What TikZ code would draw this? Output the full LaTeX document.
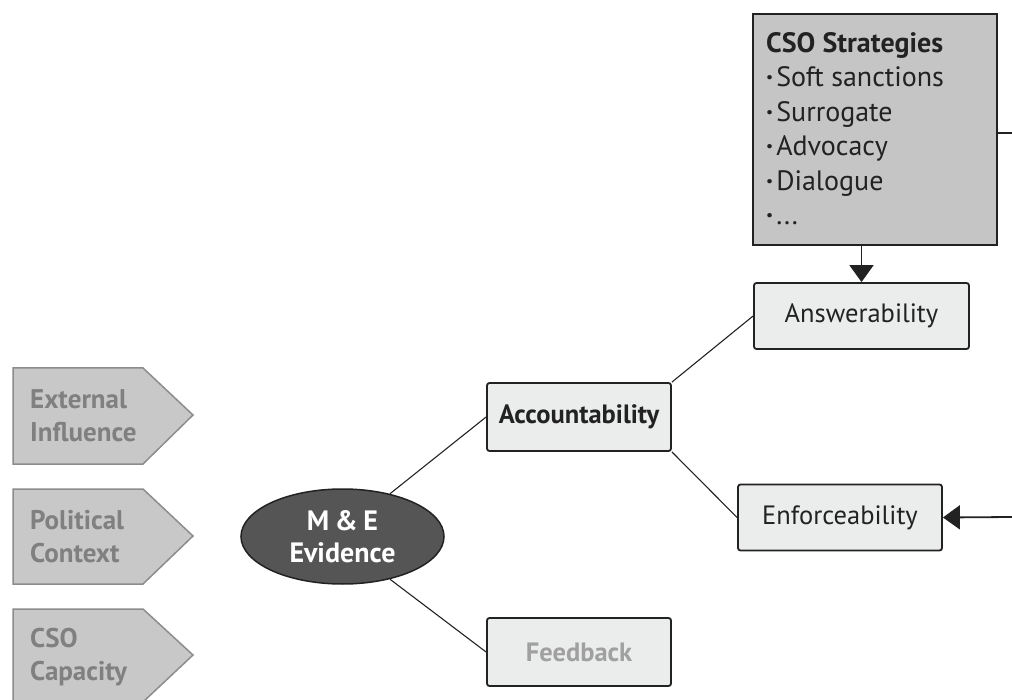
\documentclass[tikz,border=0pt]{standalone}
\usepackage{fontspec}
\setmainfont{PT Sans}
\usetikzlibrary{arrows.meta,shapes.geometric}
\definecolor{csofill}{HTML}{C5C5C5}
\definecolor{boxfill}{HTML}{EBECEC}
\definecolor{ellfill}{HTML}{555555}
\definecolor{pentfill}{HTML}{C8C8C8}
\definecolor{pentline}{HTML}{8C8C8C}
\definecolor{penttext}{HTML}{808080}
\definecolor{fbtext}{HTML}{A0A0A0}
\definecolor{linecol}{HTML}{222222}
\begin{document}
\begin{tikzpicture}[x=1pt,y=-1pt,
  lbox/.style={draw=linecol,line width=1.8pt,fill=boxfill,rounded corners=2.5pt,
    inner sep=0pt,font=\fontsize{26.5}{30}\selectfont,text=linecol},
  conn/.style={draw=linecol,line width=1.1pt},
  arr/.style={draw=linecol,line width=1.8pt,-{Triangle[width=24pt,length=17pt]}},
  pent/.style={draw=pentline,line width=1.5pt,fill=pentfill},
  penttxt/.style={inner sep=0pt,align=left,anchor=west,text=penttext,
    font=\bfseries\fontsize{27}{33}\selectfont},
  bul/.style={},
]
\useasboundingbox (0,0) rectangle (1012,700);

% CSO strategies box
\node[draw=linecol,line width=1.8pt,fill=csofill,minimum width=244pt,minimum height=231pt,inner sep=0pt] (cso) at (875,129.5) {};
\node[inner sep=0pt,align=left,anchor=north west,text=linecol,font=\fontsize{28}{34.5}\selectfont] (csotxt) at (766,32)
  {{\bfseries CSO Strategies}\\{\bfseries·}\hspace{3pt}Soft sanctions\\{\bfseries·}\hspace{3pt}Surrogate\\{\bfseries·}\hspace{3pt}Advocacy\\{\bfseries·}\hspace{3pt}Dialogue\\{\bfseries·}\hspace{3pt}...};

% boxes
\node[lbox,minimum width=215pt,minimum height=66pt] (ans) at (861.5,316) {Answerability};
\node[lbox,minimum width=184pt,minimum height=68pt] (acc) at (579,417) {\bfseries Accountability};
\node[lbox,minimum width=204pt,minimum height=66pt] (enf) at (840,517.5) {Enforceability};
\node[lbox,minimum width=184pt,minimum height=68pt,text=fbtext] (fb) at (579,652) {\bfseries Feedback};

% ellipse
\node[ellipse,draw=linecol,line width=1.5pt,fill=ellfill,minimum width=203pt,minimum height=95pt,inner sep=0pt,
  text=white,align=center,font=\bfseries\fontsize{28}{32}\selectfont] (me) at (342.5,536.5) {M\hspace{0.2em}\&\hspace{0.2em}E\\Evidence};

% pentagons
\draw[pent] (13,368) -- (143,368) -- (193,415) -- (143,464) -- (13,464) -- cycle;
\node[penttxt] (ext) at (30,416) {External\\Influence};
\draw[pent] (13,489) -- (143,489) -- (193,536) -- (143,584) -- (13,584) -- cycle;
\node[penttxt] (pol) at (30,537) {Political\\Context};
\draw[pent] (13,609) -- (143,609) -- (193,655) -- (143,702) -- (13,702) -- cycle;
\node[penttxt] (cap) at (30,657) {CSO\\Capacity};

% connectors
\draw[conn] (me.42) -- (acc.west);
\draw[conn] (me.-42) -- (fb.west);
\draw[conn] (acc.north east) -- (ans.west);
\draw[conn] (acc.south east) -- (enf.west);
\draw[arr] (ans.north |- cso.south) -- (ans.north);
\coordinate (r1) at (1012,133);
\coordinate (r2) at (1012,517);
\draw[conn,line width=1.6pt] (cso.east |- r1) -- (r1);
\draw[arr] (r2) -- (enf.east);
\end{tikzpicture}
\end{document}
